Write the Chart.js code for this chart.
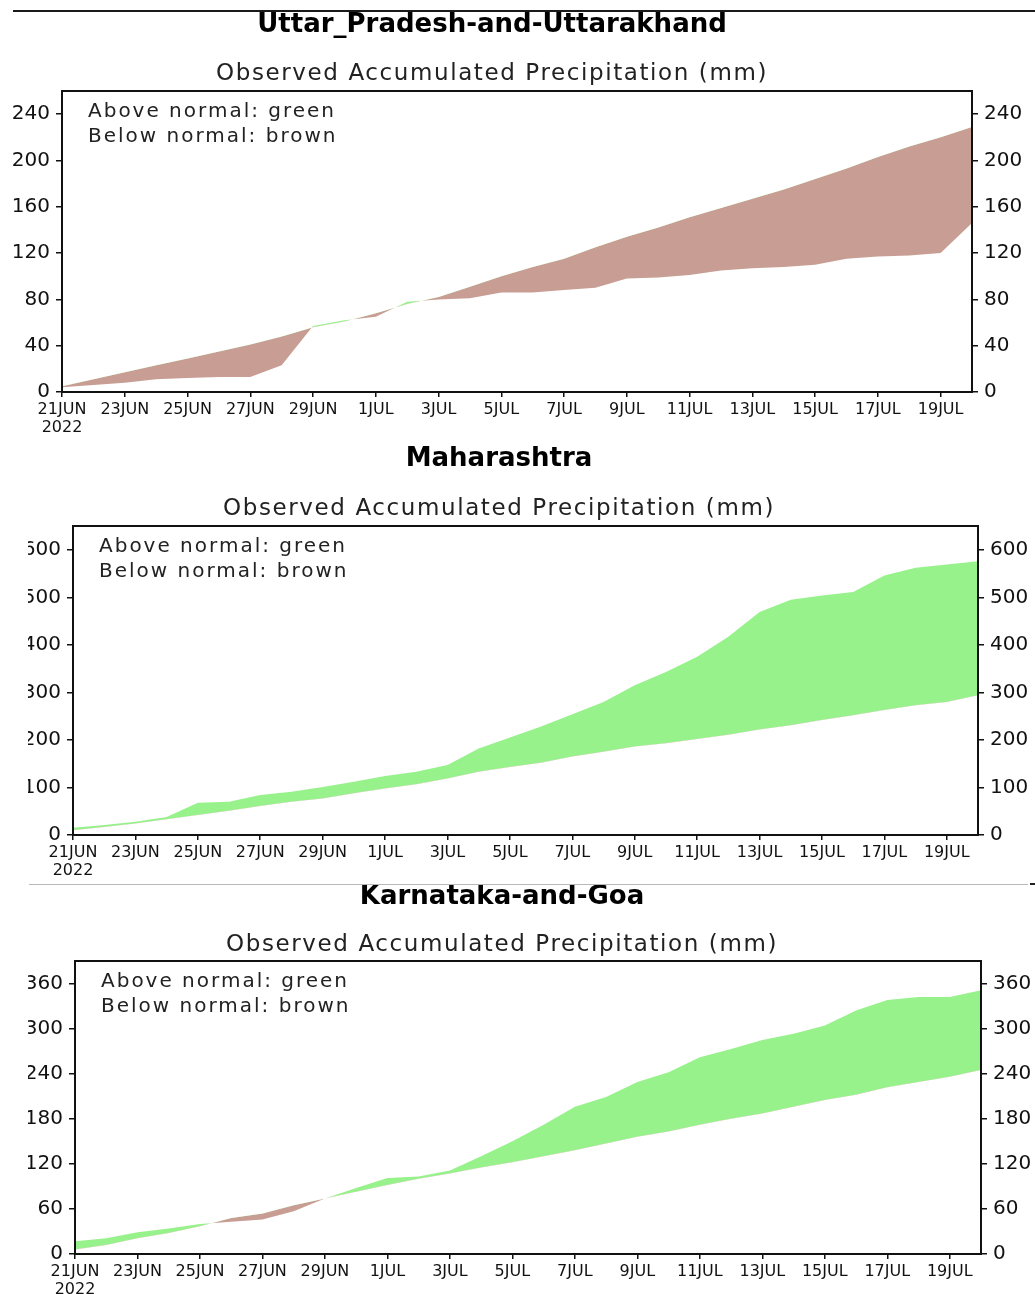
<!DOCTYPE html>
<html>
<head>
<meta charset="utf-8">
<script src="https://cdn.jsdelivr.net/npm/chart.js@4.4.1/dist/chart.umd.min.js"></script>
<style>
  html, body { margin: 0; padding: 0; background: #fff; }
  body { position: relative; width: 1035px; height: 1294px; overflow: hidden; }
  .panel { position: absolute; overflow: hidden; }
  .panel canvas { position: absolute; top: 0; }
  #topRule { position: absolute; left: 13px; top: 10px; width: 1022px; height: 2px; background: #1a1a1a; }
  #midRule { position: absolute; left: 29px; top: 884px; width: 999px; height: 1px; background: #b8b8b8; }
  #midDash { position: absolute; left: 1030px; top: 883px; width: 5px; height: 2px; background: #222; }
</style>
</head>
<body>
<div id="topRule"></div>
<div class="panel" style="left:0;top:0;width:1035px;height:440px"><canvas id="c1" width="1035" height="440" style="left:0"></canvas></div>
<div class="panel" style="left:28px;top:440px;width:1007px;height:440px"><canvas id="c2" width="1035" height="440" style="left:-28px"></canvas></div>
<div class="panel" style="left:28px;top:880px;width:1007px;height:414px"><canvas id="c3" width="1035" height="414" style="left:-28px"></canvas></div>
<div id="midRule"></div>
<div id="midDash"></div>
<script>
// days on the x axis (21 Jun - 20 Jul 2022)
const dates = ['21JUN', '22JUN', '23JUN', '24JUN', '25JUN', '26JUN', '27JUN', '28JUN', '29JUN', '30JUN',
    '1JUL', '2JUL', '3JUL', '4JUL', '5JUL', '6JUL', '7JUL', '8JUL', '9JUL', '10JUL',
    '11JUL', '12JUL', '13JUL', '14JUL', '15JUL', '16JUL', '17JUL', '18JUL', '19JUL', '20JUL'];
const YEAR = '2022';

// accumulated precipitation, mm
const upNormal   = [5, 11, 17, 23, 29, 35, 41, 48, 56, 61, 68, 76, 82, 91, 100, 108, 115, 125, 134, 142, 151, 159, 167, 175, 184, 193, 203, 212, 220, 229];
const upObserved = [4, 6, 8, 11, 12, 13, 13, 23, 57, 62, 65, 78, 80, 81, 86, 86, 88, 90, 98, 99, 101, 105, 107, 108, 110, 115, 117, 118, 120, 146];

const mhNormal   = [10, 17, 24, 33, 42, 51, 61, 70, 77, 88, 98, 107, 119, 133, 143, 152, 165, 175, 186, 193, 202, 211, 222, 231, 242, 252, 263, 273, 280, 294];
const mhObserved = [15, 21, 28, 38, 68, 70, 84, 91, 101, 112, 124, 133, 147, 182, 205, 228, 254, 280, 315, 343, 375, 417, 469, 495, 504, 511, 546, 562, 569, 576];

const kgNormal   = [6, 12, 21, 28, 37, 48, 54, 65, 74, 83, 92, 100, 107, 115, 122, 130, 138, 147, 156, 163, 172, 180, 187, 196, 205, 212, 222, 229, 236, 245];
const kgObserved = [17, 21, 29, 34, 40, 43, 46, 57, 74, 88, 101, 103, 111, 130, 150, 172, 196, 209, 229, 242, 262, 273, 285, 293, 304, 324, 338, 342, 342, 351];

const SUBTITLE = 'Observed Accumulated Precipitation (mm)';
const legendLines = ['Above normal: green', 'Below normal: brown'];

const GREEN = '#98f28c';
const BROWN = '#c89e94';
const INK = '#111111';

Chart.defaults.font.family = '"DejaVu Sans", sans-serif';
Chart.defaults.color = INK;

// titles, subtitle, legend text and the box around the plot
const panelText = {
    id: 'panelText',
    afterDraw(chart, args, opts) {
        const { ctx, chartArea } = chart;
        ctx.save();
        ctx.strokeStyle = INK;
        ctx.lineWidth = 2;
        ctx.strokeRect(chartArea.left, chartArea.top, chartArea.right - chartArea.left, chartArea.bottom - chartArea.top);

        ctx.fillStyle = '#000';
        ctx.textAlign = 'center';
        ctx.textBaseline = 'middle';
        ctx.font = 'bold 26px "DejaVu Sans"';
        ctx.fillText(opts.title, opts.centerX, opts.titleY);

        ctx.fillStyle = '#222';
        ctx.letterSpacing = '1.6px';
        ctx.font = '23px "DejaVu Sans"';
        ctx.fillText(SUBTITLE, opts.centerX, opts.subtitleY);

        ctx.textAlign = 'left';
        ctx.letterSpacing = '2px';
        ctx.font = '20px "DejaVu Sans"';
        legendLines.forEach((line, i) => {
            ctx.fillText(line, chartArea.left + 26, chartArea.top + 21 + i * 25);
        });
        ctx.restore();
    }
};

function makePanel(id, cfg) {
    const canvas = document.getElementById(id);
    const yAxis = (position, width) => ({
        type: 'linear',
        position: position,
        min: 0,
        max: cfg.yMax,
        afterFit: (scale) => { scale.width = width; },
        border: { display: false },
        grid: { drawOnChartArea: false, tickLength: 6, color: INK, lineWidth: 1.5 },
        ticks: { stepSize: cfg.yStep, includeBounds: false, padding: 6, font: { size: 20 }, color: INK }
    });

    return new Chart(canvas, {
        type: 'line',
        data: {
            labels: dates,
            datasets: [
                { label: 'Normal', data: cfg.normal, borderWidth: 0, borderColor: 'rgba(0,0,0,0)', pointRadius: 0, fill: false },
                {
                    label: 'Observed', data: cfg.observed, borderWidth: 0, borderColor: 'rgba(0,0,0,0)', pointRadius: 0,
                    fill: { target: 0, above: GREEN, below: BROWN }
                }
            ]
        },
        options: {
            responsive: false,
            animation: false,
            devicePixelRatio: 1,
            layout: { padding: { top: cfg.top, left: 0, right: 0, bottom: 0 } },
            scales: {
                x: {
                    type: 'category',
                    offset: false,
                    afterFit: (scale) => { scale.height = canvas.height - cfg.bottom; },
                    border: { display: false },
                    grid: { drawOnChartArea: false, tickLength: 5, color: INK, lineWidth: 1.5 },
                    ticks: {
                        autoSkip: false,
                        maxRotation: 0,
                        padding: 4,
                        font: { size: 16, lineHeight: 1.1 },
                        color: INK,
                        callback: (v, i) => {
                            if (i % 2) return null;
                            return i === 0 ? [dates[0], YEAR] : dates[i];
                        }
                    }
                },
                y: yAxis('left', cfg.left),
                y2: yAxis('right', canvas.width - cfg.right)
            },
            plugins: {
                legend: { display: false },
                tooltip: { enabled: false },
                panelText: { title: cfg.title, centerX: cfg.centerX, titleY: cfg.titleY, subtitleY: cfg.subtitleY }
            }
        },
        plugins: [panelText]
    });
}

makePanel('c1', {
    title: 'Uttar_Pradesh-and-Uttarakhand', normal: upNormal, observed: upObserved,
    yMax: 260, yStep: 40, top: 91, bottom: 392, left: 62, right: 972,
    centerX: 492, titleY: 25, subtitleY: 74
});
makePanel('c2', {
    title: 'Maharashtra', normal: mhNormal, observed: mhObserved,
    yMax: 650, yStep: 100, top: 86, bottom: 395, left: 73, right: 978,
    centerX: 499, titleY: 19, subtitleY: 69
});
makePanel('c3', {
    title: 'Karnataka-and-Goa', normal: kgNormal, observed: kgObserved,
    yMax: 390, yStep: 60, top: 81, bottom: 374, left: 75, right: 981,
    centerX: 502, titleY: 17, subtitleY: 65
});
</script>
</body>
</html>
